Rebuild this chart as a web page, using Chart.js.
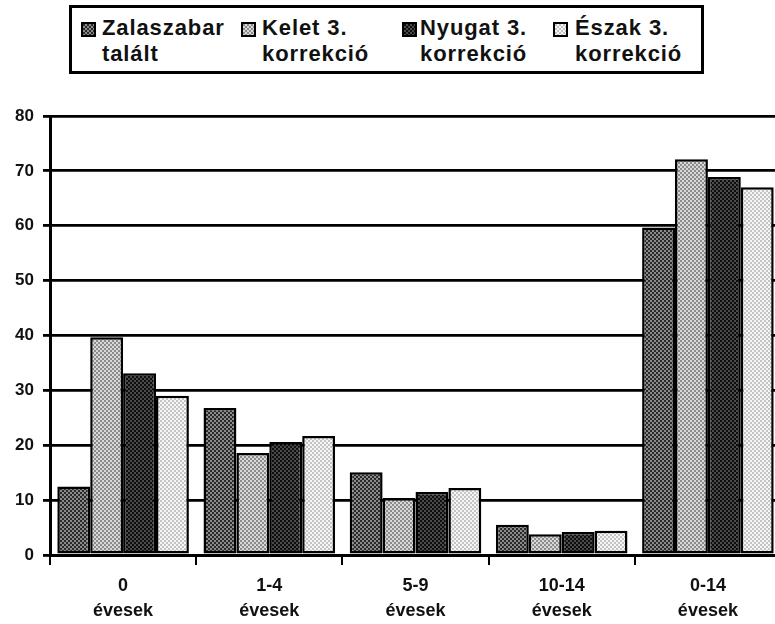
<!DOCTYPE html>
<html>
<head>
<meta charset="utf-8">
<script src="https://cdn.jsdelivr.net/npm/chart.js@4"></script>
<style>
  html, body { margin: 0; padding: 0; background: #fff; overflow: hidden; }
  #wrap { position: relative; width: 775px; height: 624px; overflow: hidden; }
  #chart { position: absolute; left: 0; top: 0; }
  #legend { position: absolute; left: 69px; top: 5px; width: 635px; height: 69px;
    border: 3px solid #000; box-sizing: border-box; background: #fff; }
  .item { position: absolute; font: bold 22px "Liberation Sans", Arial, sans-serif;
    line-height: 26px; color: #111; white-space: nowrap; letter-spacing: 0.9px; }
  .sw { position: absolute; width: 15px; height: 15px; box-sizing: border-box;
    border: 2px solid #000; }
</style>
</head>
<body>
<div id="wrap">
  <canvas id="chart" width="790" height="624"></canvas>
  <div id="legend"></div>
</div>
<script>
const categories = [['0', 'évesek'], ['1-4', 'évesek'], ['5-9', 'évesek'], ['10-14', 'évesek'], ['0-14', 'évesek']];
const seriesNames = [['Zalaszabar', 'talált'], ['Kelet 3.', 'korrekció'], ['Nyugat 3.', 'korrekció'], ['Észak 3.', 'korrekció']];
const zalaszabar = [12.5, 26.8, 15.1, 5.5, 59.7];
const kelet = [39.7, 18.6, 10.4, 3.8, 72.1];
const nyugat = [33.1, 20.6, 11.5, 4.2, 68.9];
const eszak = [29.0, 21.7, 12.2, 4.4, 67.0];
const yTicks = [0, 10, 20, 30, 40, 50, 60, 70, 80];

// dithered fills like the scanned original
function tile(fg, bg) {
  const c = document.createElement('canvas');
  c.width = 4; c.height = 4;
  const g = c.getContext('2d');
  g.fillStyle = bg; g.fillRect(0, 0, 4, 4);
  g.fillStyle = fg; g.fillRect(0, 0, 2, 2); g.fillRect(2, 2, 2, 2);
  return c;
}
const tiles = [tile('#2a2a2a', '#8a8a8a'), tile('#8c8c8c', '#d8d8d8'), tile('#0e0e0e', '#4a4a4a'), tile('#c4c4c4', '#f6f6f6')];
const ctx = document.getElementById('chart').getContext('2d');
const fills = tiles.map(t => ctx.createPattern(t, 'repeat'));

// legend (html, the labels run over two lines)
const legendPos = [[81, 102], [241, 262], [402, 420], [553, 575]];
const legend = document.getElementById('legend');
seriesNames.forEach((name, i) => {
  const sw = document.createElement('div');
  sw.className = 'sw';
  sw.style.left = (legendPos[i][0] - 72) + 'px';
  sw.style.top = (22 - 8) + 'px';
  sw.style.backgroundImage = 'url(' + tiles[i].toDataURL() + ')';
  legend.appendChild(sw);
  const t = document.createElement('div');
  t.className = 'item';
  t.style.left = (legendPos[i][1] - 72) + 'px';
  t.style.top = (15 - 8) + 'px';
  t.innerHTML = name.join('<br>');
  legend.appendChild(t);
});

const seriesData = [zalaszabar, kelet, nyugat, eszak];
new Chart(ctx, {
  type: 'bar',
  data: {
    labels: categories,
    datasets: seriesData.map((d, i) => ({
      label: seriesNames[i].join(' '),
      data: d,
      backgroundColor: fills[i],
      borderColor: '#000',
      borderWidth: 2.5,
      borderSkipped: false,
      categoryPercentage: 0.9,
      barPercentage: 1.0,
    })),
  },
  options: {
    responsive: false,
    animation: false,
    devicePixelRatio: 1,
    layout: { padding: { top: 116, right: 9, left: 0, bottom: 0 } },
    plugins: { legend: { display: false }, tooltip: { enabled: false } },
    scales: {
      x: {
        grid: { display: true, drawOnChartArea: false, drawTicks: true, tickLength: 10, color: '#000', lineWidth: 2 },
        border: { display: true, color: '#000', width: 3 },
        ticks: { color: '#111', font: { family: 'Liberation Sans, Arial', size: 18, weight: 'bold', lineHeight: 1.4 }, padding: 8, maxRotation: 0 },
        afterFit: s => { s.height = 69; },
      },
      y: {
        min: 0,
        max: 80,
        afterBuildTicks: s => { s.ticks = yTicks.map(v => ({ value: v })); },
        grid: { color: '#000', lineWidth: 2.8, tickLength: 7, drawTicks: true },
        border: { display: true, color: '#000', width: 3 },
        ticks: { color: '#111', font: { family: 'Liberation Sans, Arial', size: 17, weight: 'bold' }, padding: 9 },
        afterFit: s => { s.width = 50; },
      },
    },
  },
});
</script>
</body>
</html>
